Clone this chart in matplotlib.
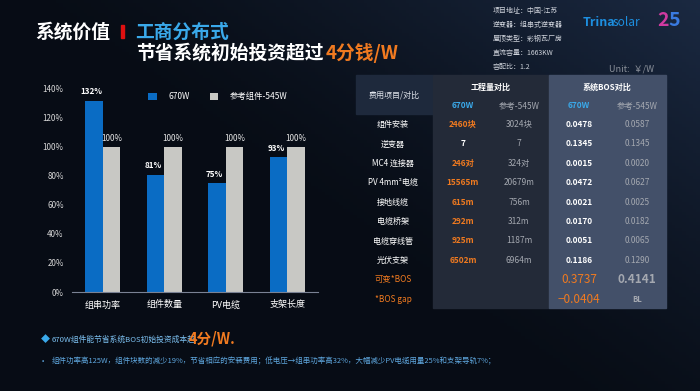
import numpy as np
import matplotlib
matplotlib.use("Agg")
import matplotlib.pyplot as plt
from matplotlib.patches import Rectangle

plt.rcParams['font.family'] = ['Noto Sans CJK SC', 'DejaVu Sans']

# 柱状图数据
categories = ['组串功率', '组件数量', 'PV电缆', '支架长度']
vals_670 = [132, 81, 75, 93]
vals_545 = [100, 100, 100, 100]
yticks = [0, 20, 40, 60, 80, 100, 120, 140]

# 项目信息
info_lines = ['项目地址：中国-江苏', '逆变器：组串式逆变器', '屋顶类型：彩钢瓦厂房',
              '直流容量：1663KW', '容配比：1.2']

# 表格数据
row_names = ['组件安装', '逆变器', 'MC4 连接器', 'PV 4mm²电缆', '接地线缆',
             '电缆桥架', '电缆穿线管', '光伏支架']
qty_670 = ['2460块', '7', '246对', '15565m', '615m', '292m', '925m', '6502m']
qty_545 = ['3024块', '7', '324对', '20679m', '756m', '312m', '1187m', '6964m']
bos_670 = ['0.0478', '0.1345', '0.0015', '0.0472', '0.0021', '0.0170', '0.0051', '0.1186']
bos_545 = ['0.0587', '0.1345', '0.0020', '0.0627', '0.0025', '0.0182', '0.0065', '0.1290']
total_670 = '0.3737'
total_545 = '0.4141'
gap_670 = '−0.0404'
gap_545 = 'BL'

W, H = 700, 391
fig = plt.figure(figsize=(7, 3.91), dpi=100)

# 背景渐变
bg = fig.add_axes([0, 0, 1, 1])
xx, yy = np.meshgrid(np.linspace(0, 1, 200), np.linspace(0, 1, 120))
dark = np.array([0.03, 0.05, 0.085])
light = np.array([0.11, 0.17, 0.27])
t = np.clip((xx * 0.9 + (1 - yy) * 0.7 - 0.75) / 0.9, 0, 1) ** 1.3
img = dark[None, None, :] * (1 - t[..., None]) + light[None, None, :] * t[..., None]
bg.imshow(img, extent=[0, W, H, 0], aspect='auto')
bg.set_xlim(0, W)
bg.set_ylim(H, 0)
bg.axis('off')

orange = '#f07a20'
white = '#ffffff'
grey = '#a4a8b0'
blue_txt = '#3aa9ea'

# 标题
bg.text(35, 32, '系统价值', color=white, fontsize=13.5, fontweight='bold', va='center')
bg.add_patch(Rectangle((121, 25), 2.5, 13, color='#e01010'))
bg.text(135, 32, '工商分布式', color=blue_txt, fontsize=13.5, fontweight='bold', va='center')
bg.text(136, 53, '节省系统初始投资超过', color=white, fontsize=13.5, fontweight='bold', va='center')
bg.text(326, 53, '4分钱/W', color=orange, fontsize=13.5, fontweight='bold', va='center')

for i, s in enumerate(info_lines):
    bg.text(493, 11 + i * 14, s, color='#d0d4dc', fontsize=5.0, va='center')
bg.text(609, 69, 'Unit:  ￥/W', color='#8a909a', fontsize=6.5, va='center')

# logo
bg.text(583, 23, 'Trina', color='#1d8fe0', fontsize=9, fontweight='bold', va='center')
bg.text(613, 23, 'solar', color='#1d8fe0', fontsize=8.5, va='center')
bg.text(657, 20, '2', color='#d03aa0', fontsize=14, fontweight='bold', va='center')
bg.text(668, 20, '5', color='#3a7ae0', fontsize=14, fontweight='bold', va='center')

# 表格面板
bg.add_patch(Rectangle((356, 75), 77, 39, color='#1e293c'))
bg.add_patch(Rectangle((433, 75), 116, 233, color='#232a38'))
bg.add_patch(Rectangle((549, 75), 117, 233, color='#435069'))

bg.text(394, 95, '费用项目/对比', color='#dfe3ea', fontsize=5.8, ha='center', va='center')
bg.text(491, 87, '工程量对比', color=white, fontsize=5.8, fontweight='bold', ha='center', va='center')
bg.text(607, 87, '系统BOS对比', color=white, fontsize=5.8, fontweight='bold', ha='center', va='center')
col_x = [463, 519, 579, 637]
bg.text(col_x[0], 106, '670W', color=blue_txt, fontsize=6, fontweight='bold', ha='center', va='center')
bg.text(col_x[1], 106, '参考-545W', color=grey, fontsize=6, ha='center', va='center')
bg.text(col_x[2], 106, '670W', color=blue_txt, fontsize=6, fontweight='bold', ha='center', va='center')
bg.text(col_x[3], 106, '参考-545W', color=grey, fontsize=6, ha='center', va='center')

row_y0, row_dy = 124.5, 19.4
for i, name in enumerate(row_names):
    y = row_y0 + i * row_dy
    bg.text(393, y, name, color=white, fontsize=5.8, ha='center', va='center')
    c1 = white if qty_670[i] == qty_545[i] else orange
    bg.text(col_x[0], y, qty_670[i], color=c1, fontsize=6, fontweight='bold', ha='center', va='center')
    bg.text(col_x[1], y, qty_545[i], color=grey, fontsize=6, ha='center', va='center')
    bg.text(col_x[2], y, bos_670[i], color=white, fontsize=6, fontweight='bold', ha='center', va='center')
    bg.text(col_x[3], y, bos_545[i], color=grey, fontsize=6, ha='center', va='center')

y = row_y0 + 8 * row_dy
bg.text(393, y, '可变*BOS', color=orange, fontsize=6, ha='center', va='center')
bg.text(col_x[2], y, total_670, color=orange, fontsize=8.5, ha='center', va='center')
bg.text(col_x[3], y, total_545, color=grey, fontsize=8.5, fontweight='bold', ha='center', va='center')
y = row_y0 + 9 * row_dy
bg.text(393, y, '*BOS gap', color=orange, fontsize=6, ha='center', va='center')
bg.text(col_x[2], y, gap_670, color=orange, fontsize=8.5, ha='center', va='center')
bg.text(col_x[3], y, gap_545, color=grey, fontsize=5.5, fontweight='bold', ha='center', va='center')

# 底部说明
bg.text(45, 340, '◆', color='#3aa9ea', fontsize=6.5, ha='center', va='center')
bg.text(52, 340, '670W组件能节省系统BOS初始投资成本超', color='#7cc0f0', fontsize=5.6, va='center')
bg.text(189, 338, '4分/W.', color=orange, fontsize=10.5, fontweight='bold', va='center')
bg.text(43, 361, '•', color='#5fa8e0', fontsize=6, ha='center', va='center')
bg.text(52, 361, '组件功率高125W，组件块数的减少19%，节省相应的安装费用；低电压→组串功率高32%，'
        '大幅减少PV电缆用量25%和支架导轨7%；', color='#5fa8e0', fontsize=5.4, va='center')

# 柱状图
ax = fig.add_axes([72 / W, 1 - 292 / H, 246 / W, (292 - 89) / H])
ax.patch.set_alpha(0)
x = np.arange(len(categories))
bw = 0.285
ax.bar(x - bw / 2, vals_670, bw, color='#0a6cc4', label='670W')
ax.bar(x + bw / 2, vals_545, bw, color='#c8c8c4', label='参考组件-545W')
for xi, v in zip(x, vals_670):
    ax.text(xi - bw / 2 - 0.04, v + 3, f'{v}%', color=white, fontsize=5.8, fontweight='bold',
            ha='center', va='bottom')
for xi, v in zip(x, vals_545):
    ax.text(xi + bw / 2, v + 3, f'{v}%', color='#e8e8e8', fontsize=5.8, ha='center', va='bottom')
ax.set_xlim(-0.5, 3.5)
ax.set_ylim(0, 140)
ax.set_yticks(yticks)
ax.set_yticklabels([f'{v}%' for v in yticks], color='#d8d8d8', fontsize=5.8)
ax.set_xticks(x)
ax.set_xticklabels(categories, color=white, fontsize=6.5)
ax.tick_params(length=0, pad=6)
for s in ['top', 'right', 'left']:
    ax.spines[s].set_visible(False)
ax.spines['bottom'].set_color('#7a8294')
ax.legend(loc='upper left', bbox_to_anchor=(0.28, 1.02), ncol=2, frameon=False, fontsize=6,
          labelcolor=white, handlelength=1.0, handleheight=1.0, handletextpad=1.4,
          columnspacing=2.4)

fig.savefig('out.png', dpi=100)
